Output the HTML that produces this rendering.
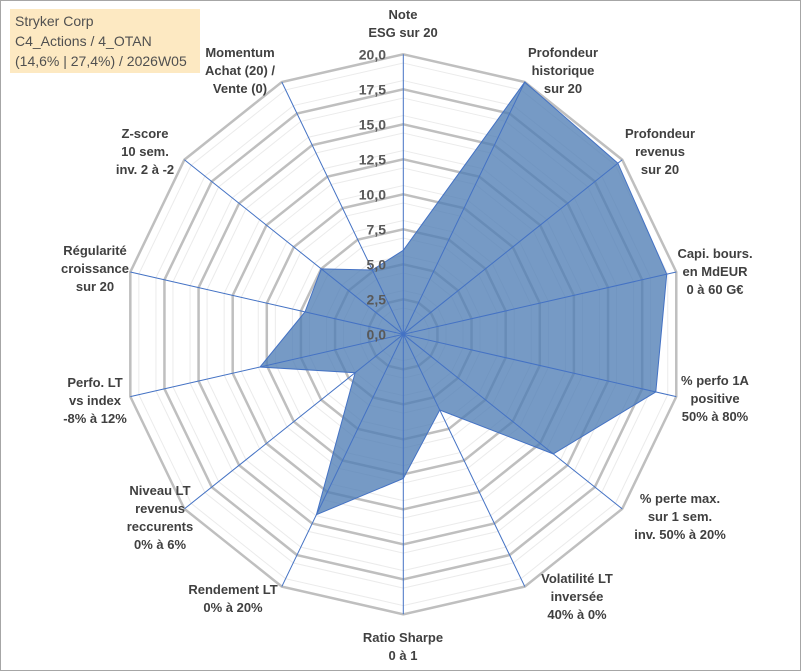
<!DOCTYPE html>
<html><head><meta charset="utf-8">
<style>
html,body{margin:0;padding:0;background:#fff;}
#wrap{position:relative;width:801px;height:671px;overflow:hidden;font-family:"Liberation Sans",sans-serif;}
#frame{position:absolute;left:0;top:0;width:799px;height:669px;border:1px solid #a6a6a6;}
#titlebox{position:absolute;left:10px;top:9px;width:190px;height:64px;background:#fde9c2;color:#505050;font-size:14px;line-height:20px;padding:2px 0 0 5px;box-sizing:border-box;}
svg{position:absolute;left:0;top:0;}
</style></head>
<body>
<div id="wrap">
<div id="frame"></div>
<svg id="chart" width="801" height="671"></svg>
<div id="titlebox">Stryker Corp<br>C4_Actions / 4_OTAN<br>(14,6% | 27,4%) / 2026W05</div>
</div>
<script>
const categories = [
 ["Note","ESG sur 20"],
 ["Profondeur","historique","sur 20"],
 ["Profondeur","revenus","sur 20"],
 ["Capi. bours.","en MdEUR","0 à 60 G€"],
 ["% perfo 1A","positive","50% à 80%"],
 ["% perte max.","sur 1 sem.","inv. 50% à 20%"],
 ["Volatilité LT","inversée","40% à 0%"],
 ["Ratio Sharpe","0 à 1"],
 ["Rendement LT","0% à 20%"],
 ["Niveau LT","revenus","reccurents","0% à 6%"],
 ["Perfo. LT","vs index","-8% à 12%"],
 ["Régularité","croissance","sur 20"],
 ["Z-score","10 sem.","inv. 2 à -2"],
 ["Momentum","Achat (20) /","Vente (0)"]
];
const values = [6.0, 20, 19.6, 19.3, 18.5, 13.7, 6.0, 10.3, 14.3, 4.4, 10.5, 7.2, 7.5, 5.1];
const tickValues = [0, 2.5, 5, 7.5, 10, 12.5, 15, 17.5, 20];
const tickLabels = ["0,0","2,5","5,0","7,5","10,0","12,5","15,0","17,5","20,0"];
const labelAnchors = [[403,14],[563,52],[660,133],[715,253],[715,380],[680,498],[577,578],[403,637],[233,589],[160,490],[95,382],[95,250],[145,133],[240,52]];

const NS="http://www.w3.org/2000/svg";
const svg=document.getElementById('chart');
const cx=403.3, cy=334.3, R=280, maxV=20;
const n=categories.length;
function ang(i){return i*2*Math.PI/n;}
function pt(i,v){const r=v/maxV*R;return [cx+r*Math.sin(ang(i)), cy-r*Math.cos(ang(i))];}
function mk(tag,attrs){const e=document.createElementNS(NS,tag);for(const k in attrs)e.setAttribute(k,attrs[k]);svg.appendChild(e);return e;}
// minor rings
for(let k=0;k<16;k++){
 const v=(k+0.5)*1.25;
 if(v>20) break;
 const pts=categories.map((c,i)=>pt(i,v).join(',')).join(' ');
 const e=mk('polygon',{points:pts,fill:'none',stroke:'#ebebeb','stroke-width':1});
 
 
}
// major rings
tickValues.forEach(v=>{
 if(v===0) return;
 const pts=categories.map((c,i)=>pt(i,v).join(',')).join(' ');
 const e=mk('polygon',{points:pts,fill:'none',stroke:'#bfbfbf','stroke-width':2.5});
 
 
});
// series
const spts=values.map((v,i)=>pt(i,v).join(',')).join(' ');
const poly=mk('polygon',{points:spts,fill:'#4f7eb5','fill-opacity':0.78,stroke:'#4472c4','stroke-width':1});


// axes
categories.forEach((c,i)=>{
 const p=pt(i,20);
 const e=mk('line',{x1:cx,y1:cy,x2:p[0],y2:p[1],stroke:'#4472c4','stroke-width':1});
 
 
});
// ticks
tickValues.forEach((v,k)=>{
 const y=cy-v/maxV*R;
 const t=mk('text',{x:386,y:y+5,'text-anchor':'end','font-size':14,'font-weight':'bold',fill:'#595959','font-family':'Liberation Sans, sans-serif'});
 t.textContent=tickLabels[k];
 
 
});
// category labels
categories.forEach((lines,i)=>{
 const a=labelAnchors[i];
 const t=mk('text',{x:a[0],y:a[1]+5,'text-anchor':'middle','font-size':13,'font-weight':'bold',fill:'#404040','font-family':'Liberation Sans, sans-serif'});
 lines.forEach((ln,j)=>{
  const s=document.createElementNS(NS,'tspan');
  s.setAttribute('x',a[0]);
  s.setAttribute('dy',j===0?0:18);
  s.textContent=ln;
  t.appendChild(s);
 });
 
 
});
</script>
</body></html>
